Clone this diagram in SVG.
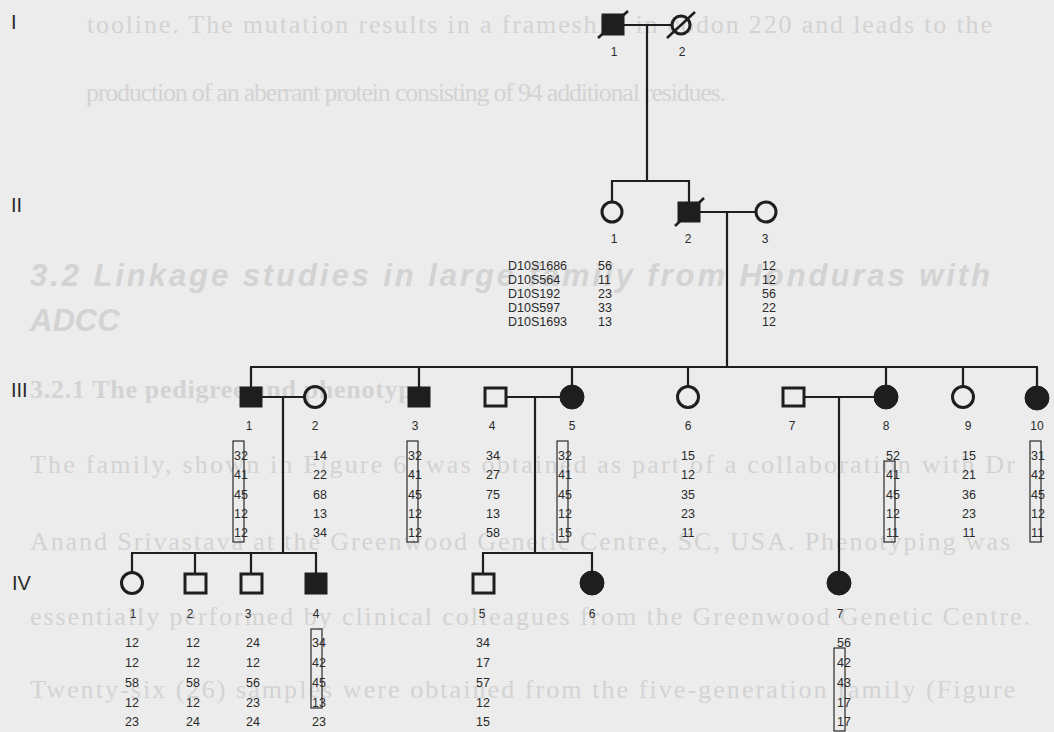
<svg xmlns="http://www.w3.org/2000/svg" width="1054" height="732" viewBox="0 0 1054 732">
<style>
.bg{font-family:"Liberation Serif",serif;font-size:26px;fill:#d3d3d3}
.bgh{font-family:"Liberation Sans",sans-serif;font-size:31px;font-weight:bold;font-style:italic;fill:#d3d3d3}
.ln{stroke:#1e1e1e;stroke-width:2.2;fill:none}
.op{fill:none;stroke:#1e1e1e;stroke-width:3}
.fi{fill:#1e1e1e;stroke:#1e1e1e;stroke-width:1}
.sl{stroke:#1e1e1e;stroke-width:2.5}
.gen{font-family:"Liberation Sans",sans-serif;font-size:20px;fill:#2a2a2a}
.id{font-family:"Liberation Sans",sans-serif;font-size:12px;fill:#2a2a2a;text-anchor:middle}
.hp{font-family:"Liberation Sans",sans-serif;font-size:12.5px;fill:#2a2a2a}
.hc{text-anchor:middle}
.bx{fill:none;stroke:#2a2a2a;stroke-width:1.2}
</style>
<rect width="1054" height="732" fill="#ececec"/>
<g id="page-text">
<text class="bg" x="87" y="33" textLength="905" lengthAdjust="spacing">tooline. The mutation results in a frameshift in codon 220 and leads to the</text>
<text class="bg" x="86" y="101" textLength="640" lengthAdjust="spacing">production of an aberrant protein consisting of 94 additional residues.</text>
<text class="bgh" x="30" y="286" textLength="960" lengthAdjust="spacing">3.2 Linkage studies in large family from Honduras with</text>
<text class="bgh" x="30" y="331">ADCC</text>
<text class="bg" x="30" y="398" font-weight="bold" textLength="395" lengthAdjust="spacing">3.2.1 The pedigree and phenotype</text>
<text class="bg" x="30" y="473" textLength="985" lengthAdjust="spacing">The family, shown in Figure 6, was obtained as part of a collaboration with Dr</text>
<text class="bg" x="30" y="550" textLength="980" lengthAdjust="spacing">Anand Srivastava at the Greenwood Genetic Centre, SC, USA. Phenotyping was</text>
<text class="bg" x="30" y="625" textLength="1000" lengthAdjust="spacing">essentially performed by clinical colleagues from the Greenwood Genetic Centre.</text>
<text class="bg" x="30" y="698" textLength="985" lengthAdjust="spacing">Twenty-six (26) samples were obtained from the five-generation family (Figure</text>
</g>
<g id="generation-labels">
<text class="gen" x="11" y="29">I</text>
<text class="gen" x="11" y="212">II</text>
<text class="gen" x="11" y="397">III</text>
<text class="gen" x="12" y="590">IV</text>
</g>
<g id="connectors">
<line class="ln" x1="624" y1="25" x2="673" y2="25"/>
<line class="ln" x1="647" y1="25" x2="647" y2="181"/>
<line class="ln" x1="611" y1="181" x2="690" y2="181"/>
<line class="ln" x1="612" y1="181" x2="612" y2="202"/>
<line class="ln" x1="689" y1="181" x2="689" y2="202"/>
<line class="ln" x1="700" y1="212" x2="756" y2="212"/>
<line class="ln" x1="727" y1="212" x2="727" y2="367"/>
<line class="ln" x1="250" y1="367" x2="1038" y2="367"/>
<line class="ln" x1="251" y1="367" x2="251" y2="387"/>
<line class="ln" x1="419" y1="367" x2="419" y2="387"/>
<line class="ln" x1="572" y1="367" x2="572" y2="386"/>
<line class="ln" x1="688" y1="367" x2="688" y2="387"/>
<line class="ln" x1="886" y1="367" x2="886" y2="386"/>
<line class="ln" x1="963" y1="367" x2="963" y2="387"/>
<line class="ln" x1="1037" y1="367" x2="1037" y2="387"/>
<line class="ln" x1="262" y1="397" x2="305" y2="397"/>
<line class="ln" x1="283" y1="397" x2="283" y2="553"/>
<line class="ln" x1="507" y1="397" x2="561" y2="397"/>
<line class="ln" x1="535" y1="397" x2="535" y2="553"/>
<line class="ln" x1="804" y1="397" x2="875" y2="397"/>
<line class="ln" x1="839" y1="397" x2="839" y2="572"/>
<line class="ln" x1="131" y1="553" x2="317" y2="553"/>
<line class="ln" x1="132" y1="553" x2="132" y2="573"/>
<line class="ln" x1="195" y1="553" x2="195" y2="573"/>
<line class="ln" x1="251" y1="553" x2="251" y2="573"/>
<line class="ln" x1="316" y1="553" x2="316" y2="573"/>
<line class="ln" x1="482" y1="553" x2="593" y2="553"/>
<line class="ln" x1="483" y1="553" x2="483" y2="573"/>
<line class="ln" x1="592" y1="553" x2="592" y2="572"/>
</g>
<g id="I-1"><rect class="fi" x="602" y="14" width="22" height="21"/><line class="sl" x1="598" y1="38" x2="628" y2="11"/><text class="id" x="614" y="56">1</text></g>
<g id="I-2"><circle class="op" cx="681" cy="25" r="9"/><line class="sl" x1="667" y1="38" x2="695" y2="12"/><text class="id" x="682" y="56">2</text></g>
<g id="II-1"><circle class="op" cx="612" cy="212" r="10"/><text class="id" x="614" y="243">1</text></g>
<g id="II-2"><rect class="fi" x="678" y="202" width="22" height="20"/><line class="sl" x1="675" y1="226" x2="704" y2="198"/><text class="id" x="688" y="243">2</text></g>
<g id="II-3"><circle class="op" cx="766" cy="212" r="10"/><text class="id" x="765" y="243">3</text></g>
<g id="marker-table" class="hp">
<text x="508" y="270">D10S1686</text><text x="598" y="270">56</text><text x="762" y="270">12</text>
<text x="508" y="284">D10S564</text><text x="598" y="284">11</text><text x="762" y="284">12</text>
<text x="508" y="298">D10S192</text><text x="598" y="298">23</text><text x="762" y="298">56</text>
<text x="508" y="312">D10S597</text><text x="598" y="312">33</text><text x="762" y="312">22</text>
<text x="508" y="326">D10S1693</text><text x="598" y="326">13</text><text x="762" y="326">12</text>
</g>
<g id="III-1"><rect class="fi" x="240" y="387" width="22" height="20"/><text class="id" x="249" y="430">1</text>
<g class="hp"><text x="234" y="460">32</text><text x="234" y="479">41</text><text x="234" y="499">45</text><text x="234" y="518">12</text><text x="234" y="537">12</text></g><rect class="bx" x="233" y="441" width="11" height="101"/></g>
<g id="III-2"><circle class="op" cx="315" cy="397" r="10.5"/><text class="id" x="315" y="430">2</text>
<g class="hp hc"><text x="320" y="460">14</text><text x="320" y="479">22</text><text x="320" y="499">68</text><text x="320" y="518">13</text><text x="320" y="537">34</text></g></g>
<g id="III-3"><rect class="fi" x="408" y="387" width="22" height="20"/><text class="id" x="415" y="430">3</text>
<g class="hp"><text x="408" y="460">32</text><text x="408" y="479">41</text><text x="408" y="499">45</text><text x="408" y="518">12</text><text x="408" y="537">12</text></g><rect class="bx" x="407" y="441" width="11" height="101"/></g>
<g id="III-4"><rect class="op" x="485" y="388" width="21" height="18"/><text class="id" x="492" y="430">4</text>
<g class="hp hc"><text x="493" y="460">34</text><text x="493" y="479">27</text><text x="493" y="499">75</text><text x="493" y="518">13</text><text x="493" y="537">58</text></g></g>
<g id="III-5"><circle class="fi" cx="572" cy="397" r="12"/><text class="id" x="572" y="430">5</text>
<g class="hp"><text x="558" y="460">32</text><text x="558" y="479">41</text><text x="558" y="499">45</text><text x="558" y="518">12</text><text x="558" y="537">15</text></g><rect class="bx" x="557" y="441" width="11" height="101"/></g>
<g id="III-6"><circle class="op" cx="688" cy="397" r="10.5"/><text class="id" x="688" y="430">6</text>
<g class="hp hc"><text x="688" y="460">15</text><text x="688" y="479">12</text><text x="688" y="499">35</text><text x="688" y="518">23</text><text x="688" y="537">11</text></g></g>
<g id="III-7"><rect class="op" x="783" y="388" width="21" height="18"/><text class="id" x="792" y="430">7</text></g>
<g id="III-8"><circle class="fi" cx="886" cy="397" r="12"/><text class="id" x="886" y="430">8</text>
<g class="hp"><text x="886" y="460">52</text><text x="886" y="479">41</text><text x="886" y="499">45</text><text x="886" y="518">12</text><text x="886" y="537">11</text></g><rect class="bx" x="884" y="461" width="11" height="81"/></g>
<g id="III-9"><circle class="op" cx="963" cy="397" r="10.5"/><text class="id" x="968" y="430">9</text>
<g class="hp hc"><text x="969" y="460">15</text><text x="969" y="479">21</text><text x="969" y="499">36</text><text x="969" y="518">23</text><text x="969" y="537">11</text></g></g>
<g id="III-10"><circle class="fi" cx="1037" cy="398" r="12"/><text class="id" x="1037" y="430">10</text>
<g class="hp"><text x="1031" y="460">31</text><text x="1031" y="479">42</text><text x="1031" y="499">45</text><text x="1031" y="518">12</text><text x="1031" y="537">11</text></g><rect class="bx" x="1030" y="441" width="11" height="101"/></g>
<g id="IV-1"><circle class="op" cx="132" cy="583" r="10.5"/><text class="id" x="133" y="618">1</text>
<g class="hp hc"><text x="132" y="647">12</text><text x="132" y="667">12</text><text x="132" y="687">58</text><text x="132" y="707">12</text><text x="132" y="726">23</text></g></g>
<g id="IV-2"><rect class="op" x="185" y="574" width="21" height="19"/><text class="id" x="190" y="618">2</text>
<g class="hp hc"><text x="193" y="647">12</text><text x="193" y="667">12</text><text x="193" y="687">58</text><text x="193" y="707">12</text><text x="193" y="726">24</text></g></g>
<g id="IV-3"><rect class="op" x="241" y="574" width="21" height="19"/><text class="id" x="248" y="618">3</text>
<g class="hp hc"><text x="253" y="647">24</text><text x="253" y="667">12</text><text x="253" y="687">56</text><text x="253" y="707">23</text><text x="253" y="726">24</text></g></g>
<g id="IV-4"><rect class="fi" x="305" y="573" width="22" height="21"/><text class="id" x="316" y="618">4</text>
<g class="hp"><text x="312" y="647">34</text><text x="312" y="667">42</text><text x="312" y="687">45</text><text x="312" y="707">13</text><text x="312" y="726">23</text></g><rect class="bx" x="311" y="629" width="11" height="79"/></g>
<g id="IV-5"><rect class="op" x="473" y="574" width="21" height="19"/><text class="id" x="482" y="618">5</text>
<g class="hp hc"><text x="483" y="647">34</text><text x="483" y="667">17</text><text x="483" y="687">57</text><text x="483" y="707">12</text><text x="483" y="726">15</text></g></g>
<g id="IV-6"><circle class="fi" cx="592" cy="583" r="12"/><text class="id" x="592" y="618">6</text></g>
<g id="IV-7"><circle class="fi" cx="839" cy="583" r="12"/><text class="id" x="840" y="618">7</text>
<g class="hp"><text x="837" y="647">56</text><text x="837" y="667">42</text><text x="837" y="687">43</text><text x="837" y="707">17</text><text x="837" y="726">17</text></g><rect class="bx" x="834" y="648" width="11" height="83"/></g>
</svg>
